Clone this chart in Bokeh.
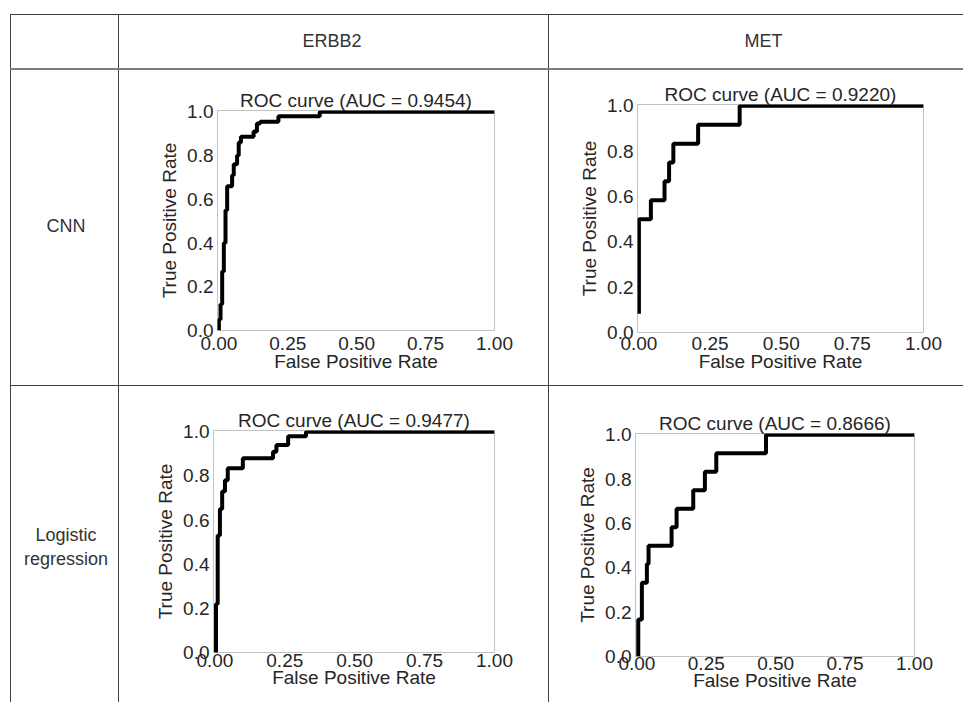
from bokeh.plotting import figure
from bokeh.layouts import row, column
from bokeh.models import Div, Spacer, Range1d, FixedTicker, PrintfTickFormatter
from bokeh.embed import file_html
from bokeh.resources import INLINE
from bokeh.core.properties import value

# ---------------- data ----------------
col_labels = ["ERBB2", "MET"]
row_labels = ["CNN", "Logistic\nregression"]
auc_labels = [["0.9454", "0.9220"], ["0.9477", "0.8666"]]

x_ticks = [0.0, 0.25, 0.5, 0.75, 1.0]
x_tick_labels = ["0.00", "0.25", "0.50", "0.75", "1.00"]
y_ticks = [0.0, 0.2, 0.4, 0.6, 0.8, 1.0]
y_tick_labels = ["0.0", "0.2", "0.4", "0.6", "0.8", "1.0"]

# CNN / ERBB2
cnn_erbb2_fpr = [0.0, 0.0, 0.006, 0.006, 0.012, 0.012, 0.018, 0.018, 0.024, 0.024, 0.03, 0.03,
                 0.048, 0.048, 0.054, 0.054, 0.066, 0.066, 0.072, 0.072, 0.08, 0.08, 0.126, 0.126,
                 0.138, 0.138, 0.15, 0.15, 0.216, 0.216, 0.366, 0.366, 1.0]
cnn_erbb2_tpr = [0.0, 0.05, 0.05, 0.12, 0.12, 0.27, 0.27, 0.40, 0.40, 0.55, 0.55, 0.66,
                 0.66, 0.71, 0.71, 0.76, 0.76, 0.80, 0.80, 0.86, 0.86, 0.886, 0.886, 0.91,
                 0.91, 0.947, 0.947, 0.955, 0.955, 0.98, 0.98, 1.0, 1.0]
# CNN / MET
cnn_met_fpr = [0.0, 0.0, 0.042, 0.042, 0.09, 0.09, 0.106, 0.106, 0.121, 0.121, 0.208, 0.208, 0.354, 0.354, 1.0]
cnn_met_tpr = [0.083, 0.5, 0.5, 0.583, 0.583, 0.667, 0.667, 0.75, 0.75, 0.833, 0.833, 0.917, 0.917, 1.0, 1.0]
# Logistic regression / ERBB2
lr_erbb2_fpr = [0.0, 0.004, 0.004, 0.01, 0.01, 0.018, 0.018, 0.026, 0.026, 0.036, 0.036, 0.046,
                0.046, 0.1, 0.1, 0.208, 0.208, 0.22, 0.22, 0.262, 0.262, 0.326, 0.326, 1.0]
lr_erbb2_tpr = [0.0, 0.0, 0.22, 0.22, 0.53, 0.53, 0.65, 0.65, 0.73, 0.73, 0.78, 0.78,
                0.835, 0.835, 0.88, 0.88, 0.91, 0.91, 0.94, 0.94, 0.98, 0.98, 1.0, 1.0]
# Logistic regression / MET
lr_met_fpr = [0.005, 0.005, 0.018, 0.018, 0.036, 0.036, 0.042, 0.042, 0.125, 0.125, 0.143, 0.143,
              0.203, 0.203, 0.245, 0.245, 0.286, 0.286, 0.465, 0.465, 1.0]
lr_met_tpr = [0.0, 0.167, 0.167, 0.333, 0.333, 0.417, 0.417, 0.5, 0.5, 0.583, 0.583, 0.667,
              0.667, 0.75, 0.75, 0.833, 0.833, 0.917, 0.917, 1.0, 1.0]

# ---------------- style ----------------
FONT = "Liberation Sans"
TXT = "#262626"
LINE = "#404040"


def vline(h, color=LINE, w=1):
    return Div(width=w, height=h, margin=0, styles={"background-color": color})


def hline(w, h=1, color=LINE):
    return Div(width=w, height=h, margin=0, styles={"background-color": color})


def text_cell(w, h, labels, xs, ys, size="18px"):
    p = figure(width=w, height=h, x_range=Range1d(0, w), y_range=Range1d(0, h),
               min_border=0, toolbar_location=None, output_backend="svg",
               x_axis_location=None, y_axis_location=None,
               outline_line_color=None, background_fill_color="white",
               border_fill_color="white")
    p.grid.visible = False
    p.text(x=xs, y=ys, text=labels, text_align="center", text_baseline="middle",
           text_font=value(FONT), text_font_size=size, text_color="#333333",
           text_line_height=1.2)
    return p


def roc_fig(w, h, left, top, fw, fh, fpr, tpr, auc, tick_sd, label_sd):
    p = figure(width=w, height=h, x_range=Range1d(-0.005, 1.0), y_range=Range1d(0.0, 1.006),
               min_border_left=left, min_border_top=top,
               min_border_right=w - left - fw, min_border_bottom=h - top - fh,
               toolbar_location=None, output_backend="svg",
               outline_line_color="#c2c2c2", outline_line_width=1,
               background_fill_color="white", border_fill_color="white")
    p.title.text = f"ROC curve (AUC = {auc})"
    p.title.align = "center"
    p.title.text_font = FONT
    p.title.text_font_size = "19px"
    p.title.text_font_style = "normal"
    p.title.text_color = TXT
    p.title.standoff = 0
    p.title.offset = 0
    p.grid.visible = False
    p.line(fpr, tpr, line_color="black", line_width=4)

    for ax in (p.xaxis[0], p.yaxis[0]):
        ax.axis_line_color = None
        ax.major_tick_line_color = None
        ax.minor_tick_line_color = None
        ax.major_tick_out = 0
        ax.major_tick_in = 0
        ax.major_label_text_font = FONT
        ax.major_label_text_font_size = "19px"
        ax.major_label_text_color = TXT
        ax.axis_label_text_font = FONT
        ax.axis_label_text_font_size = "19px"
        ax.axis_label_text_font_style = "normal"
        ax.axis_label_text_color = TXT

    xa = p.xaxis[0]
    xa.ticker = FixedTicker(ticks=x_ticks)
    xa.formatter = PrintfTickFormatter(format="%.2f")
    xa.major_label_overrides = dict(zip(x_ticks, x_tick_labels))
    xa.axis_label = "False Positive Rate"
    xa.major_label_standoff = tick_sd
    xa.axis_label_standoff = label_sd

    ya = p.yaxis[0]
    ya.ticker = FixedTicker(ticks=y_ticks)
    ya.formatter = PrintfTickFormatter(format="%.1f")
    ya.major_label_overrides = dict(zip(y_ticks, y_tick_labels))
    ya.axis_label = "True Positive Rate"
    ya.major_label_standoff = 4
    ya.axis_label_standoff = 4
    # wrap so that sibling plots in a row do not get their frames aligned
    return column(p, width=w, height=h, margin=0)


# ---------------- geometry (page pixels) ----------------
LBL_W, C1_W, C2_W = 107, 429, 414
HEAD_H, ROW1_H, ROW2_H = 53, 315, 316
TOTAL_W = 1 + LBL_W + 1 + C1_W + 1 + C2_W

head_lbl = Spacer(width=LBL_W, height=HEAD_H, margin=0)
head_c1 = text_cell(C1_W, HEAD_H, [col_labels[0]], [C1_W / 2 - 2], [HEAD_H / 2 + 1])
head_c2 = text_cell(C2_W, HEAD_H, [col_labels[1]], [214], [HEAD_H / 2 + 1])

lbl_r1 = text_cell(LBL_W, ROW1_H, [row_labels[0]], [LBL_W / 2 + 1], [ROW1_H - 155])
lbl_r2 = text_cell(LBL_W, ROW2_H, [row_labels[1]], [LBL_W / 2 + 1], [ROW2_H - 160])

p1 = roc_fig(C1_W, ROW1_H, 98, 40, 277, 220, cnn_erbb2_fpr, cnn_erbb2_tpr, auc_labels[0][0], 6, -2)
p2 = roc_fig(C2_W, ROW1_H, 88, 34, 286, 228, cnn_met_fpr, cnn_met_tpr, auc_labels[0][1], 4, -2)
p3 = roc_fig(C1_W, ROW2_H, 94, 44, 281, 222, lr_erbb2_fpr, lr_erbb2_tpr, auc_labels[1][0], 1, -3)
p4 = roc_fig(C2_W, ROW2_H, 86, 47, 279, 223, lr_met_fpr, lr_met_tpr, auc_labels[1][1], 0, -3)


def pad():
    return Spacer(width=10, height=1, margin=0)


layout = column(
    Spacer(width=TOTAL_W, height=14, margin=0),
    row(pad(), hline(TOTAL_W, 1)),
    row(pad(), vline(HEAD_H), head_lbl, vline(HEAD_H), head_c1, vline(HEAD_H), head_c2),
    row(pad(), hline(TOTAL_W, 2, "#7d7d7d")),
    row(pad(), vline(ROW1_H), lbl_r1, vline(ROW1_H), p1, vline(ROW1_H), p2),
    row(pad(), hline(TOTAL_W, 1)),
    row(pad(), vline(ROW2_H), lbl_r2, vline(ROW2_H), p3, vline(ROW2_H), p4),
    spacing=0,
)

open("out.html", "w").write(file_html(layout, INLINE, title="ROC curves"))
